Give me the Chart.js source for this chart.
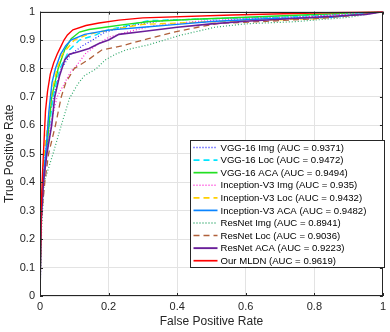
<!DOCTYPE html>
<html>
<head>
<meta charset="utf-8">
<script src="https://cdn.jsdelivr.net/npm/chart.js@4.4.0/dist/chart.umd.min.js"></script>
<style>
  html, body { margin: 0; padding: 0; background: #fff; }
</style>
</head>
<body>
<canvas id="canvas" width="390" height="332"></canvas>
<script>
// ROC curves (false positive rate / true positive rate)
var vggImgFpr = [0, 0.004, 0.012, 0.02, 0.03, 0.045, 0.062, 0.09, 0.124, 0.153, 0.19, 0.26, 0.37, 0.5, 0.75, 1];
var vggImgTpr = [0, 0.3, 0.45, 0.55, 0.65, 0.73, 0.8, 0.85, 0.88, 0.9, 0.928, 0.95, 0.97, 0.975, 0.982, 1];

var vggLocFpr = [0, 0.003, 0.01, 0.018, 0.028, 0.038, 0.058, 0.086, 0.115, 0.163, 0.19, 0.316, 0.5, 0.7, 1];
var vggLocTpr = [0, 0.3, 0.45, 0.55, 0.6, 0.7, 0.8, 0.866, 0.9, 0.918, 0.933, 0.968, 0.975, 0.98, 1];

var vggAcaFpr = [0, 0.003, 0.01, 0.019, 0.026, 0.034, 0.053, 0.072, 0.091, 0.115, 0.143, 0.19, 0.25, 0.32, 0.45, 0.6, 0.8, 1];
var vggAcaTpr = [0, 0.3, 0.4, 0.5, 0.6, 0.7, 0.8, 0.866, 0.905, 0.928, 0.937, 0.945, 0.955, 0.965, 0.973, 0.98, 0.99, 1];

var incImgFpr = [0, 0.005, 0.014, 0.03, 0.05, 0.09, 0.105, 0.134, 0.172, 0.2, 0.26, 0.33, 0.45, 0.6, 0.75, 1];
var incImgTpr = [0, 0.3, 0.45, 0.6, 0.7, 0.79, 0.808, 0.854, 0.888, 0.91, 0.93, 0.95, 0.965, 0.975, 0.98, 1];

var incLocFpr = [0, 0.003, 0.012, 0.022, 0.035, 0.05, 0.065, 0.1, 0.14, 0.2, 0.3, 0.45, 0.6, 0.8, 1];
var incLocTpr = [0, 0.3, 0.5, 0.6, 0.72, 0.8, 0.85, 0.9, 0.92, 0.935, 0.955, 0.962, 0.968, 0.975, 1];

var incAcaFpr = [0, 0.003, 0.01, 0.018, 0.026, 0.035, 0.045, 0.06, 0.075, 0.09, 0.13, 0.2, 0.3, 0.4, 0.5, 0.66, 0.85, 1];
var incAcaTpr = [0, 0.3, 0.42, 0.52, 0.65, 0.75, 0.8, 0.85, 0.88, 0.9, 0.92, 0.935, 0.945, 0.955, 0.965, 0.975, 0.98, 1];

var resImgFpr = [0, 0.005, 0.012, 0.025, 0.038, 0.062, 0.086, 0.11, 0.129, 0.163, 0.19, 0.22, 0.25, 0.316, 0.41, 0.51, 0.6, 0.75, 0.9, 1];
var resImgTpr = [0, 0.25, 0.4, 0.45, 0.5, 0.6, 0.695, 0.745, 0.774, 0.798, 0.83, 0.85, 0.865, 0.883, 0.917, 0.945, 0.957, 0.965, 0.98, 1];

var resLocFpr = [0, 0.002, 0.006, 0.014, 0.025, 0.045, 0.062, 0.075, 0.1, 0.14, 0.18, 0.24, 0.316, 0.39, 0.46, 0.525, 0.65, 0.8, 0.9, 1];
var resLocTpr = [0, 0.2, 0.3, 0.4, 0.5, 0.6, 0.7, 0.75, 0.8, 0.83, 0.865, 0.88, 0.905, 0.928, 0.945, 0.959, 0.965, 0.975, 0.985, 1];

var resAcaFpr = [0, 0.003, 0.01, 0.02, 0.034, 0.043, 0.057, 0.072, 0.086, 0.115, 0.143, 0.172, 0.2, 0.23, 0.3, 0.4, 0.5, 0.6, 0.8, 0.95, 1];
var resAcaTpr = [0, 0.25, 0.4, 0.5, 0.6, 0.7, 0.774, 0.83, 0.85, 0.86, 0.87, 0.888, 0.9, 0.92, 0.93, 0.945, 0.957, 0.966, 0.98, 0.99, 1];

var mldnFpr = [0, 0.003, 0.008, 0.012, 0.016, 0.022, 0.03, 0.04, 0.05, 0.06, 0.07, 0.08, 0.096, 0.134, 0.172, 0.23, 0.3, 0.56, 0.8, 1];
var mldnTpr = [0, 0.3, 0.45, 0.55, 0.65, 0.72, 0.78, 0.82, 0.85, 0.875, 0.9, 0.918, 0.936, 0.951, 0.96, 0.97, 0.978, 0.988, 0.995, 1];

var seriesNames = [
  'VGG-16 Img (AUC = 0.9371)',
  'VGG-16 Loc (AUC = 0.9472)',
  'VGG-16 ACA (AUC = 0.9494)',
  'Inception-V3 Img (AUC = 0.935)',
  'Inception-V3 Loc (AUC = 0.9432)',
  'Inception-V3 ACA (AUC = 0.9482)',
  'ResNet Img (AUC = 0.8941)',
  'ResNet Loc (AUC = 0.9036)',
  'ResNet ACA (AUC = 0.9223)',
  'Our MLDN (AUC = 0.9619)'
];
var xTicks = [0, 0.2, 0.4, 0.6, 0.8, 1];
var yTicks = [0, 0.1, 0.2, 0.3, 0.4, 0.5, 0.6, 0.7, 0.8, 0.9, 1];

var fprs = [vggImgFpr, vggLocFpr, vggAcaFpr, incImgFpr, incLocFpr, incAcaFpr, resImgFpr, resLocFpr, resAcaFpr, mldnFpr];
var tprs = [vggImgTpr, vggLocTpr, vggAcaTpr, incImgTpr, incLocTpr, incAcaTpr, resImgTpr, resLocTpr, resAcaTpr, mldnTpr];

var colors = ['#2020ff', '#00e5ff', '#22e022', '#ff2bd6', '#ffd000', '#0a84ff', '#2ea86a', '#b0603a', '#6a1f9a', '#ff0000'];
var dashes = [[1, 2], [6, 4], [], [1, 2], [6, 4], [], [1, 2], [6, 4], [], []];
var widths = [1.2, 1.4, 1.4, 1.2, 1.4, 1.4, 1.2, 1.3, 1.6, 1.4];

var datasets = seriesNames.map(function(name, i) {
  return {
    label: name,
    data: fprs[i].map(function(x, j) { return { x: x, y: tprs[i][j] }; }),
    borderColor: colors[i],
    backgroundColor: colors[i],
    borderDash: dashes[i],
    borderWidth: widths[i],
    showLine: true,
    pointRadius: 0,
    tension: 0,
    order: 9 - i
  };
});

function tickText(v) {
  return String(Math.round(v * 10) / 10);
}

// matlab-ish frame, inner ticks and legend box
var frame = {
  id: 'frame',
  afterDatasetsDraw: function(chart) {
    var ctx = chart.ctx, a = chart.chartArea;
    var xs = chart.scales.x, ys = chart.scales.y;
    ctx.save();
    ctx.strokeStyle = '#262626';
    ctx.lineWidth = 1;
    ctx.setLineDash([]);
    ctx.beginPath();
    xTicks.forEach(function(t) {
      var px = Math.round(xs.getPixelForValue(t)) + 0.5;
      ctx.moveTo(px, a.bottom); ctx.lineTo(px, a.bottom - 3);
      ctx.moveTo(px, a.top); ctx.lineTo(px, a.top + 3);
    });
    yTicks.forEach(function(t) {
      var py = Math.round(ys.getPixelForValue(t)) + 0.5;
      ctx.moveTo(a.left, py); ctx.lineTo(a.left + 3, py);
      ctx.moveTo(a.right, py); ctx.lineTo(a.right - 3, py);
    });
    ctx.stroke();
    ctx.strokeRect(Math.round(a.left) + 0.5, Math.round(a.top) + 0.5, Math.round(a.right - a.left) - 1, Math.round(a.bottom - a.top) - 1);

    // legend
    var lx = 190.5, ly = 140.5, lw = 194, lh = 127, row = 12.58;
    ctx.fillStyle = '#fff';
    ctx.fillRect(lx, ly, lw, lh);
    ctx.strokeStyle = '#262626';
    ctx.strokeRect(lx, ly, lw, lh);
    ctx.font = '9.6px "Liberation Sans", Arial, sans-serif';
    ctx.textBaseline = 'middle';
    ctx.textAlign = 'left';
    seriesNames.forEach(function(name, i) {
      var cy = ly + 7 + row * i;
      ctx.strokeStyle = colors[i];
      ctx.lineWidth = widths[i] + 0.3;
      ctx.setLineDash(dashes[i]);
      ctx.beginPath();
      ctx.moveTo(lx + 3, cy); ctx.lineTo(lx + 27, cy);
      ctx.stroke();
      ctx.fillStyle = '#000';
      ctx.fillText(name, lx + 30, cy + 0.5);
    });
    ctx.restore();
  }
};

var ctx = document.getElementById('canvas').getContext('2d');
var myChart = new Chart(ctx, {
  type: 'scatter',
  data: { datasets: datasets },
  options: {
    responsive: false,
    animation: false,
    layout: { padding: { top: 4, right: 1, left: 0, bottom: 0 } },
    plugins: { legend: { display: false }, tooltip: { enabled: false } },
    scales: {
      x: {
        type: 'linear', min: 0, max: 1,
        afterFit: function(scale) { scale.height = 36; },
        afterBuildTicks: function(scale) { scale.ticks = xTicks.map(function(v) { return { value: v }; }); },
        grid: { color: '#e3e3e3', drawTicks: false },
        border: { display: false },
        ticks: { padding: 4, color: '#262626', callback: tickText,
                 font: { family: '"Liberation Sans", Arial, sans-serif', size: 11 } },
        title: { display: true, text: 'False Positive Rate', color: '#262626', padding: { top: 0, bottom: 3 },
                 font: { family: '"Liberation Sans", Arial, sans-serif', size: 12 } }
      },
      y: {
        type: 'linear', min: 0, max: 1,
        afterFit: function(scale) { scale.width = 40; },
        afterBuildTicks: function(scale) { scale.ticks = yTicks.map(function(v) { return { value: v }; }); },
        grid: { color: '#e3e3e3', drawTicks: false },
        border: { display: false },
        ticks: { padding: 5, color: '#262626', callback: tickText,
                 font: { family: '"Liberation Sans", Arial, sans-serif', size: 11 } },
        title: { display: true, text: 'True Positive Rate', color: '#262626', padding: { top: 2, bottom: 0 },
                 font: { family: '"Liberation Sans", Arial, sans-serif', size: 12 } }
      }
    }
  },
  plugins: [frame]
});
</script>
</body>
</html>
